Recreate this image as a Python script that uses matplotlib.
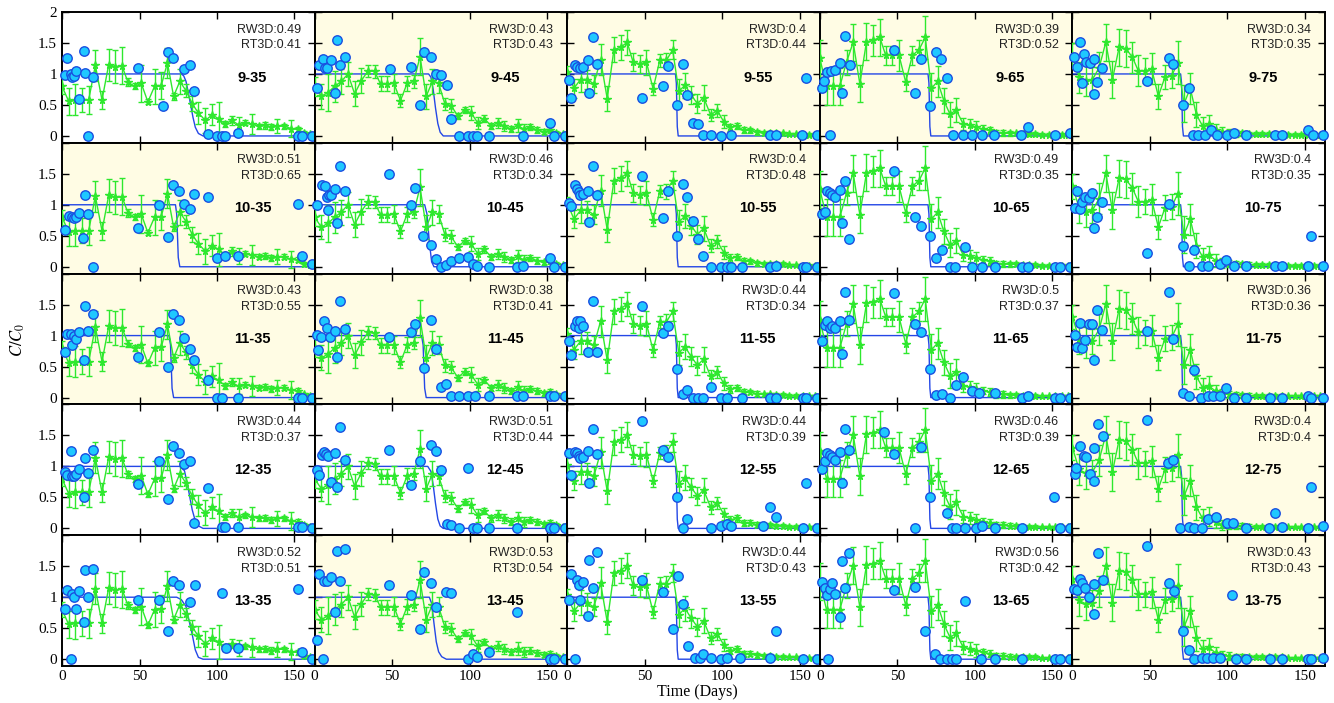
import matplotlib
matplotlib.use("Agg")
import matplotlib.pyplot as plt

# simulation output times (days)
t_sim = [0, 4.3, 8.6, 12.9, 17.2, 21.5, 25.8, 30.1, 34.4, 38.7, 42.5, 46.8, 51.1,
         55.4, 59.7, 64, 68, 72, 76, 80, 84, 88, 92.5, 96.8, 101, 105.3, 109.6,
         113.9, 118.2, 122.5, 126.8, 131, 135, 139, 143.4, 147.7, 152, 156, 160]

# RW3D mean C/C0 and spread, one series per column of wells
rw_35 = [0.8, 0.56, 0.58, 0.58, 0.58, 1.14, 0.58, 1.15, 1.12, 1.13, 0.87, 0.8, 0.85,
         0.55, 0.8, 0.81, 1.18, 0.64, 0.88, 0.73, 0.52, 0.37, 0.25, 0.34, 0.28, 0.19,
         0.25, 0.18, 0.21, 0.19, 0.16, 0.17, 0.14, 0.16, 0.16, 0.12, 0.11, 0.05, 0.03]
err_35 = [0.12, 0.22, 0.25, 0.2, 0.23, 0.25, 0.15, 0.26, 0.27, 0.3, 0.06, 0.05, 0.3,
          0.04, 0.28, 0.22, 0.24, 0.06, 0.2, 0.1, 0.12, 0.17, 0.2, 0.17, 0.27, 0.05,
          0.07, 0.13, 0.04, 0.16, 0.04, 0.05, 0.05, 0.12, 0.04, 0.14, 0.04, 0.03, 0.02]
rw_45 = [0.8, 0.64, 0.7, 0.8, 0.88, 1.0, 0.68, 0.89, 1.05, 1.04, 0.84, 0.84, 0.85,
         0.57, 0.85, 0.88, 1.28, 0.64, 0.88, 0.85, 0.52, 0.49, 0.32, 0.42, 0.37, 0.21,
         0.28, 0.16, 0.21, 0.16, 0.11, 0.17, 0.11, 0.14, 0.1, 0.07, 0.09, 0.05, 0.03]
err_45 = [0.15, 0.2, 0.3, 0.25, 0.2, 0.2, 0.2, 0.2, 0.1, 0.1, 0.12, 0.12, 0.15, 0.1,
          0.12, 0.1, 0.3, 0.2, 0.2, 0.15, 0.1, 0.1, 0.05, 0.05, 0.12, 0.1, 0.05, 0.05,
          0.08, 0.08, 0.05, 0.1, 0.08, 0.05, 0.05, 0.04, 0.05, 0.03, 0.02]
rw_55 = [1.03, 0.77, 0.91, 0.91, 0.84, 1.23, 0.6, 1.39, 1.43, 1.51, 1.19, 1.16, 1.19,
         0.76, 1.22, 1.22, 1.39, 0.72, 0.82, 0.66, 0.52, 0.62, 0.34, 0.41, 0.23, 0.14,
         0.16, 0.09, 0.09, 0.06, 0.05, 0.05, 0.04, 0.04, 0.03, 0.03, 0.02, 0.02, 0.02]
err_55 = [0.1, 0.15, 0.2, 0.15, 0.15, 0.25, 0.2, 0.2, 0.2, 0.2, 0.15, 0.15, 0.2, 0.1,
          0.1, 0.12, 0.15, 0.2, 0.2, 0.15, 0.15, 0.2, 0.1, 0.1, 0.1, 0.06, 0.05, 0.05,
          0.04, 0.04, 0.03, 0.03, 0.03, 0.03, 0.02, 0.02, 0.02, 0.02, 0.02]
rw_65 = [1.25, 0.8, 0.8, 0.8, 1.19, 1.51, 0.84, 1.52, 1.54, 1.59, 1.3, 1.3, 1.3, 0.87,
         1.3, 1.39, 1.59, 0.77, 0.88, 0.57, 0.35, 0.42, 0.19, 0.17, 0.14, 0.11, 0.09,
         0.05, 0.05, 0.04, 0.04, 0.03, 0.03, 0.03, 0.02, 0.02, 0.02, 0.02, 0.02]
err_65 = [0.3, 0.3, 0.3, 0.3, 0.2, 0.3, 0.3, 0.3, 0.25, 0.3, 0.15, 0.15, 0.25, 0.15,
          0.15, 0.15, 0.35, 0.25, 0.25, 0.2, 0.2, 0.2, 0.1, 0.1, 0.1, 0.06, 0.06, 0.05,
          0.05, 0.04, 0.03, 0.03, 0.03, 0.03, 0.02, 0.02, 0.02, 0.02, 0.02]
rw_75 = [1.3, 0.95, 0.89, 0.91, 1.1, 1.51, 0.91, 1.43, 1.41, 1.27, 1.05, 1.05, 1.08,
         0.64, 0.95, 0.97, 1.18, 0.52, 0.77, 0.34, 0.16, 0.19, 0.1, 0.06, 0.05, 0.04,
         0.04, 0.03, 0.03, 0.03, 0.03, 0.03, 0.03, 0.02, 0.02, 0.02, 0.02, 0.02, 0.02]
err_75 = [0.2, 0.25, 0.25, 0.2, 0.25, 0.3, 0.3, 0.3, 0.3, 0.25, 0.25, 0.2, 0.25, 0.2,
          0.2, 0.2, 0.35, 0.3, 0.25, 0.2, 0.15, 0.15, 0.1, 0.08, 0.06, 0.05, 0.04, 0.04,
          0.03, 0.03, 0.03, 0.03, 0.03, 0.02, 0.02, 0.02, 0.02, 0.02, 0.02]

# RT3D breakthrough curves
rt_t_9_35 = [0, 77, 78.5, 80, 81.5, 83, 84.5, 86, 88, 91, 163]
rt_c_9_35 = [1, 1, 0.97, 0.88, 0.7, 0.5, 0.3, 0.14, 0.04, 0, 0]
rt_t_10_35 = [0, 73.2, 74, 75, 76, 163]
rt_c_10_35 = [1, 1, 0.85, 0.15, 0, 0]
rt_t_12_35 = [0, 76, 79, 81, 82.5, 84, 86, 88, 91, 163]
rt_c_12_35 = [1, 1, 0.93, 0.7, 0.5, 0.3, 0.12, 0.04, 0, 0]
rt_t_13_35 = [0, 74, 77, 80, 82, 84, 86, 88, 91, 163]
rt_c_13_35 = [1, 1, 0.96, 0.85, 0.62, 0.4, 0.15, 0.03, 0, 0]
rt_t_9_45 = [0, 73.5, 75, 76.5, 78, 79.5, 81, 83, 163]
rt_c_9_45 = [1, 1, 0.95, 0.75, 0.45, 0.2, 0.06, 0, 0]
rt_t_10_45 = [0, 71, 72.5, 74, 75.5, 77, 163]
rt_c_10_45 = [1, 1, 0.85, 0.4, 0.08, 0, 0]
rt_t_12_45 = [0, 73, 75, 76.5, 78, 79.5, 81, 83, 163]
rt_c_12_45 = [1, 1, 0.92, 0.7, 0.4, 0.15, 0.04, 0, 0]
rt_t_13_45 = [0, 74, 75.5, 77, 78.5, 80, 82, 85, 163]
rt_c_13_45 = [1, 1, 0.9, 0.58, 0.28, 0.12, 0.04, 0, 0]
rt_t_early = [0, 69, 70, 71, 72, 163]
rt_c_early = [1, 1, 0.85, 0.15, 0, 0]
rt_t_sharp = [0, 69.8, 70.4, 71, 71.6, 163]
rt_c_sharp = [1, 1, 0.85, 0.15, 0, 0]

# observed C/C0 at each well
obs_t_9_35 = [1.9, 3, 5.8, 6.7, 7.7, 9, 11, 14.2, 14.8, 17, 20.2, 48.8, 65.4, 68.6, 71.8,
              78.9, 82.6, 85.4, 94, 99.8, 103, 105, 113.3, 152, 155, 161.5]
obs_c_9_35 = [0.98, 1.25, 1.0, 0.95, 0.97, 1.05, 0.6, 1.37, 1.02, 0.0, 0.95, 1.09, 0.49,
              1.35, 1.25, 1.08, 1.15, 0.73, 0.03, 0.0, 0.0, 0.0, 0.04, 0.0, 0.0, 0.0]
obs_t_9_45 = [1.3, 2.8, 5.6, 6.5, 8.2, 10.3, 13.1, 14.2, 16.3, 19.4, 48.6, 61.9, 68, 70.5,
              74.8, 78, 81.7, 85.2, 87.7, 93.1, 98.9, 102.4, 104.5, 112.5, 134.6, 151.8,
              154.4, 161.3]
obs_c_9_45 = [0.78, 1.15, 1.24, 1.1, 1.1, 1.22, 0.69, 1.55, 1.15, 1.27, 1.08, 1.11, 0.5,
              1.35, 1.28, 1.0, 0.98, 0.82, 0.28, 0.0, 0.0, 0.0, 0.0, 0.0, 0.0, 0.21, 0.0, 0.0]
obs_t_9_55 = [0.9, 2.2, 4.7, 6.3, 8.5, 10.4, 13.3, 14.2, 16.5, 19, 48.1, 61.7, 64.9, 70.6,
              75, 77.5, 81.3, 84.5, 87.7, 92.7, 99, 105.4, 130.7, 134.5, 151.3, 154.1, 161.4]
obs_c_9_55 = [0.91, 0.62, 1.15, 1.11, 1.09, 1.11, 1.23, 0.7, 1.59, 1.16, 0.62, 0.81, 1.13,
              0.5, 1.16, 0.66, 0.21, 0.19, 0.02, 0.02, 0.0, 0.02, 0.02, 0.02, 0.02, 0.93, 0.02]
obs_t_9_65 = [1.6, 2.5, 4.7, 6.3, 7, 9.5, 13.3, 14.2, 16.5, 19.6, 48.1, 61.7, 65, 71.2, 75,
              78.2, 82.3, 86.1, 92.4, 98.1, 104.4, 112.3, 129.7, 134.5, 151.9, 161.4]
obs_c_9_65 = [0.77, 0.89, 1.03, 0.02, 1.04, 1.07, 1.18, 0.7, 1.61, 1.15, 1.39, 0.7, 1.24,
              0.48, 1.36, 1.24, 0.93, 0.02, 0.02, 0.02, 0.02, 0.02, 0.02, 0.14, 0.02, 0.05]
obs_t_9_75 = [0.9, 3.2, 4.7, 6.3, 7.3, 8.9, 11.1, 13.6, 14.2, 15.8, 19, 48.4, 62.3, 64.9,
              71.2, 75, 77.5, 81.3, 85.4, 89.6, 93.4, 99.7, 104.4, 112.3, 130.7, 135, 151.9,
              155, 161.4]
obs_c_9_75 = [1.27, 1.12, 1.52, 0.85, 1.32, 1.2, 1.18, 1.24, 0.68, 0.87, 1.09, 0.88, 1.25,
              1.16, 0.5, 0.77, 0.02, 0.02, 0.02, 0.09, 0.02, 0.02, 0.05, 0.02, 0.02, 0.02,
              0.09, 0.02, 0.02]

obs_t_10_35 = [1.9, 4.5, 6.2, 7.7, 8.8, 11, 13.8, 14.8, 17, 20.2, 48.8, 62.6, 68.6, 71.8,
               75.5, 78.9, 82.6, 85.4, 94, 99.8, 105, 113.3, 152, 155, 161.5]
obs_c_10_35 = [0.6, 0.82, 0.8, 0.78, 0.8, 0.87, 0.46, 1.15, 0.85, 0.0, 0.62, 1.0, 0.48,
               1.32, 1.22, 1.02, 0.93, 1.18, 1.12, 0.14, 0.17, 0.17, 1.02, 0.18, 0.05]
obs_t_10_45 = [1.3, 4.9, 6.5, 7.7, 8.6, 9.2, 10.8, 12.9, 14.2, 16.3, 19.4, 48, 61.9, 64.5,
               70.1, 74.8, 78, 81.7, 84.5, 87.7, 93.1, 98.9, 102.4, 104.5, 112.5, 130.3,
               134.6, 151.8, 154.4, 161.3]
obs_c_10_45 = [1.0, 1.32, 1.31, 1.13, 0.91, 1.15, 1.15, 1.25, 0.7, 1.62, 1.22, 1.5, 1.0,
               1.27, 0.49, 0.35, 0.12, 0.0, 0.03, 0.1, 0.14, 0.16, 0.05, 0.02, 0.0, 0.0,
               0.02, 0.14, 0.0, 0.0]
obs_t_10_55 = [0.9, 2.2, 4.7, 6.3, 7.3, 8.5, 10.4, 13.3, 14.2, 16.5, 19, 48.1, 61.7, 64.9,
               70.6, 75, 77.5, 81.3, 84.5, 87.7, 92.7, 99, 102.8, 105.4, 113, 130.7, 134.5,
               152, 154.1, 161.4]
obs_c_10_55 = [1.03, 0.98, 1.32, 1.25, 1.2, 1.15, 1.18, 1.23, 0.72, 1.62, 1.16, 1.46, 0.78,
               1.22, 0.5, 1.34, 1.13, 0.74, 0.45, 0.18, 0.0, 0.0, 0.0, 0.0, 0.0, 0.0, 0.02,
               0.0, 0.0, 0.0]
obs_t_10_65 = [1.6, 3.2, 4.7, 6.3, 7.9, 9.5, 13.3, 14.2, 16.5, 19, 48.1, 61.7, 65, 71.2, 75,
               78.5, 83.9, 87, 93.4, 98.1, 104.4, 112.9, 130.4, 134.5, 151.9, 155, 161.4]
obs_c_10_65 = [0.85, 0.88, 1.23, 1.19, 1.16, 1.12, 1.24, 0.7, 1.39, 0.44, 1.55, 0.81, 0.66,
               0.49, 0.14, 0.27, 0.0, 0.0, 0.32, 0.0, 0.0, 0.0, 0.0, 0.0, 0.0, 0.0, 0.0]
obs_t_10_75 = [1.6, 3.2, 4.7, 6.3, 7.9, 10.4, 12.7, 14.2, 15.8, 19, 48.4, 62.3, 71.2, 75,
               78.2, 83.9, 87.7, 94.9, 99, 104.4, 112.3, 130.7, 135, 151.9, 154.1, 161.4]
obs_c_10_75 = [0.95, 1.22, 0.93, 1.05, 1.13, 1.11, 1.19, 0.62, 0.8, 1.05, 0.22, 1.02, 0.34,
               0.02, 0.27, 0.02, 0.02, 0.05, 0.11, 0.02, 0.02, 0.02, 0.02, 0.02, 0.49, 0.02]

obs_t_11_35 = [1.9, 3, 5.8, 6.7, 7.7, 9, 11, 14.2, 14.8, 17, 20.2, 48.8, 62.6, 68.6, 71.8,
               75.5, 78.9, 82.6, 85.4, 94, 99.8, 103, 113.3, 152, 155, 161.5]
obs_c_11_35 = [0.74, 1.03, 1.03, 0.85, 0.99, 0.94, 1.06, 0.61, 1.48, 1.08, 1.35, 0.65, 1.06,
               0.5, 1.35, 1.25, 0.96, 0.78, 0.61, 0.28, 0.0, 0.0, 0.0, 0.0, 0.0, 0.0]
obs_t_11_45 = [1.3, 2.2, 4.3, 6, 7.7, 9.9, 12.9, 14.2, 16.3, 19.4, 48, 61.9, 64.5, 70.5,
               74.8, 78, 81.7, 84.5, 87.7, 93.1, 98.9, 103.2, 112.5, 130.3, 134.6, 151.8,
               154.4, 161.3]
obs_c_11_45 = [1.01, 0.77, 0.98, 1.23, 1.13, 0.98, 1.08, 0.65, 1.56, 1.1, 0.98, 1.06, 1.19,
               0.47, 1.25, 0.78, 0.17, 0.22, 0.03, 0.02, 0.02, 0.02, 0.02, 0.02, 0.02, 0.03,
               0.02, 0.02]
obs_t_11_55 = [0.9, 2.2, 4.7, 6.3, 7.3, 8.5, 10.4, 13.3, 16.5, 19, 48.1, 61.7, 64.9, 70.6,
               75, 77.5, 81.3, 84.5, 87.7, 92.7, 99, 102.8, 113, 130.7, 134.5, 152, 154.1,
               161.4]
obs_c_11_55 = [0.92, 0.69, 1.16, 1.24, 1.13, 1.24, 1.16, 0.73, 1.55, 0.74, 1.47, 1.04, 1.15,
               0.46, 0.06, 0.12, 0.0, 0.0, 0.0, 0.17, 0.0, 0.0, 0.0, 0.0, 0.0, 0.0, 0.0, 0.0]
obs_t_11_65 = [1.6, 3.2, 4.7, 6.3, 7.9, 9.5, 13.3, 14.2, 16.5, 19, 48.1, 61.7, 65, 71.2, 75,
               78.5, 83.9, 88, 92.4, 98.1, 102.8, 112.9, 130.4, 134.5, 151.9, 155, 161.4]
obs_c_11_65 = [0.92, 1.17, 1.24, 1.13, 1.15, 1.13, 1.23, 0.71, 1.71, 1.25, 1.69, 1.19, 1.06,
               0.46, 0.04, 0.06, 0.0, 0.2, 0.33, 0.1, 0.07, 0.07, 0.0, 0.02, 0.0, 0.0, 0.0]
obs_t_11_75 = [1.6, 3.2, 4.7, 6.3, 7.9, 10.4, 12.7, 14.2, 15.8, 19, 48.4, 62.3, 64.9, 71.2,
               75, 78.2, 83.2, 87.7, 90.8, 94.9, 99, 104.4, 112.3, 127.5, 135, 151.9, 154.1,
               161.4]
obs_c_11_75 = [1.01, 0.82, 1.2, 0.8, 0.93, 1.19, 1.19, 0.61, 1.41, 1.09, 1.08, 1.71, 0.94,
               0.08, 0.03, 0.45, 0.0, 0.03, 0.03, 0.03, 0.15, 0.0, 0.0, 0.0, 0.0, 0.03, 0.0,
               0.0]

obs_t_12_35 = [1.9, 3, 5.8, 6.7, 7.7, 9, 11, 14.2, 14.8, 17, 20.2, 48.8, 62.6, 68.6, 71.8,
               75.5, 78.9, 82.6, 85.4, 94, 103, 105, 113.3, 152, 155, 161.5]
obs_c_12_35 = [0.91, 0.86, 1.25, 0.84, 0.84, 0.88, 0.95, 0.5, 1.13, 0.89, 1.27, 0.72, 1.08,
               0.48, 1.33, 1.22, 1.04, 1.09, 0.09, 0.65, 0.02, 0.02, 0.02, 0.02, 0.02, 0.0]
obs_t_12_45 = [1.3, 2.8, 4.9, 6, 7.1, 8.6, 10.3, 12.9, 14.2, 16.3, 19.4, 48, 61.9, 68, 74.8,
               78, 81.7, 85.2, 87.7, 93.1, 98.9, 102.4, 104.5, 112.5, 130.3, 151.8, 154.4,
               161.3]
obs_c_12_45 = [0.94, 0.86, 1.18, 1.24, 1.2, 1.17, 0.75, 1.22, 0.67, 1.63, 1.11, 1.27, 0.7,
               1.09, 1.34, 1.25, 0.94, 0.07, 0.05, 0.0, 0.97, 0.0, 0.0, 0.0, 0.0, 0.0, 0.0,
               0.0]
obs_t_12_55 = [0.9, 2.2, 4.7, 6.3, 7.3, 8.5, 10.4, 13.3, 14.2, 16.5, 19, 48.1, 61.7, 64.9,
               70.6, 75, 77.5, 92.7, 99, 102.8, 105.4, 126.6, 130.7, 134.5, 152, 154.1, 161.4]
obs_c_12_55 = [1.22, 0.86, 1.24, 1.21, 1.17, 1.13, 1.15, 1.25, 0.73, 1.61, 1.2, 1.74, 1.27,
               1.15, 0.5, 0.0, 0.15, 0.0, 0.04, 0.07, 0.04, 0.04, 0.34, 0.19, 0.0, 0.74, 0.0]
obs_t_12_65 = [1.6, 3.2, 4.7, 6.3, 7.9, 9.5, 13.3, 14.2, 16.5, 19, 41.1, 48.1, 61.7, 65,
               71.2, 82.3, 85.4, 88, 93.4, 100.6, 104.4, 112.9, 130.4, 151.3, 155, 161.4]
obs_c_12_65 = [0.95, 1.09, 1.21, 1.18, 1.15, 1.1, 1.24, 0.73, 1.6, 1.26, 1.56, 1.2, 0.0,
               1.32, 0.5, 0.25, 0.0, 0.0, 0.0, 0.0, 0.04, 0.0, 0.0, 0.5, 0.0, 0.0]
obs_t_12_75 = [1.6, 2.2, 4.7, 7.3, 8.5, 11.1, 13.6, 14.2, 16.8, 19.9, 48.4, 61.7, 64.9,
               69.6, 75, 78.2, 83.9, 87.7, 92.7, 99.7, 103.5, 112.3, 126.6, 130.7, 135,
               151.9, 154.1, 161.4]
obs_c_12_75 = [0.88, 0.97, 1.33, 1.17, 1.15, 0.88, 1.29, 0.77, 1.69, 1.49, 1.75, 1.05, 1.1,
               0.0, 0.02, 0.0, 0.0, 0.15, 0.19, 0.09, 0.09, 0.0, 0.0, 0.25, 0.03, 0.0, 0.66,
               0.04]

obs_t_13_35 = [1.9, 3, 5.8, 6.7, 7.7, 9, 11, 14.2, 14.8, 17, 20.2, 48.8, 62.6, 68.6, 71.8,
               75.5, 82.6, 85.8, 103.4, 105.6, 113.3, 152, 155, 161.5]
obs_c_13_35 = [0.81, 1.11, 0.0, 1.05, 1.01, 0.81, 1.1, 0.6, 1.44, 1.01, 1.46, 0.96, 0.96,
               0.46, 1.26, 1.19, 0.92, 1.19, 1.06, 0.18, 0.18, 1.13, 0.11, 0.0]
obs_t_13_45 = [1.3, 2.8, 5.6, 6, 7.7, 10.3, 12.9, 14.2, 16.3, 19.4, 48, 61.9, 68, 70.5,
               74.8, 78, 84.5, 87.7, 98.9, 102.4, 104.9, 112.5, 130.3, 151.8, 154.4, 161.3]
obs_c_13_45 = [0.31, 1.37, 0.0, 1.26, 1.26, 1.32, 0.76, 1.75, 1.26, 1.78, 1.19, 1.04, 0.49,
               1.4, 1.23, 0.84, 1.08, 1.06, 0.0, 0.08, 0.04, 0.11, 0.76, 0.0, 0.0, 0.0]
obs_t_13_55 = [0.9, 2.2, 4.7, 6.3, 7.3, 8.5, 10.4, 13.3, 14.2, 16.5, 19, 48.1, 61.7, 68,
               71.2, 75, 78.2, 82.3, 85.4, 87.7, 92.7, 99, 102.8, 111.7, 130.7, 134.5, 152,
               161.4]
obs_c_13_55 = [0.96, 1.37, 0.0, 1.28, 1.19, 0.95, 1.24, 0.7, 1.6, 1.15, 1.73, 1.27, 1.08,
               0.49, 1.35, 0.89, 0.22, 0.02, 0.02, 0.08, 0.02, 0.0, 0.02, 0.02, 0.02, 0.45,
               0.0, 0.0]
obs_t_13_65 = [1.6, 3.2, 4.7, 5.4, 6.3, 7.9, 9.5, 13.3, 14.2, 16.5, 19, 48.1, 61.7, 68,
               74.4, 77.5, 82.3, 85.4, 88, 93.4, 103.8, 112.9, 130.4, 151.9, 155, 161.4]
obs_c_13_65 = [1.24, 1.15, 1.04, 0.0, 1.13, 1.23, 1.05, 0.68, 1.59, 1.15, 1.71, 1.11, 1.16,
               0.45, 0.09, 0.0, 0.0, 0.0, 0.0, 0.94, 0.0, 0.0, 0.0, 0.0, 0.0, 0.0]
obs_t_13_75 = [0.9, 3.2, 4.7, 6.3, 7.9, 10.4, 13.6, 14.2, 16.8, 19.9, 48.4, 62.3, 65.5,
               71.2, 75, 78.2, 83.9, 87, 90.8, 94.9, 102.8, 105.4, 112.3, 127.5, 135, 151.9,
               154.1, 161.4]
obs_c_13_75 = [1.13, 1.11, 1.3, 1.23, 1.15, 1.01, 1.22, 0.73, 1.71, 1.28, 1.83, 1.23, 1.1,
               0.46, 0.15, 0.0, 0.02, 0.02, 0.02, 0.02, 1.03, 0.0, 0.0, 0.0, 0.0, 0.0, 0.0,
               0.02]

# fit scores per well (rows 9..13, columns 35..75)
rows = [9, 10, 11, 12, 13]
cols = [35, 45, 55, 65, 75]
rw3d_score = [[0.49, 0.43, 0.4, 0.39, 0.34],
              [0.51, 0.46, 0.4, 0.49, 0.4],
              [0.43, 0.38, 0.44, 0.5, 0.36],
              [0.44, 0.51, 0.44, 0.46, 0.4],
              [0.52, 0.53, 0.44, 0.56, 0.43]]
rt3d_score = [[0.41, 0.43, 0.44, 0.52, 0.35],
              [0.65, 0.34, 0.48, 0.35, 0.35],
              [0.55, 0.41, 0.34, 0.37, 0.36],
              [0.37, 0.44, 0.39, 0.39, 0.4],
              [0.51, 0.54, 0.43, 0.42, 0.43]]
shaded = [(9, 45), (9, 55), (9, 65), (9, 75), (10, 35), (10, 55), (11, 35), (11, 45),
          (11, 75), (12, 75), (13, 45), (13, 75)]

rw_by_col = {35: (rw_35, err_35), 45: (rw_45, err_45), 55: (rw_55, err_55),
             65: (rw_65, err_65), 75: (rw_75, err_75)}
obs = {
    (9, 35): (obs_t_9_35, obs_c_9_35), (9, 45): (obs_t_9_45, obs_c_9_45),
    (9, 55): (obs_t_9_55, obs_c_9_55), (9, 65): (obs_t_9_65, obs_c_9_65),
    (9, 75): (obs_t_9_75, obs_c_9_75),
    (10, 35): (obs_t_10_35, obs_c_10_35), (10, 45): (obs_t_10_45, obs_c_10_45),
    (10, 55): (obs_t_10_55, obs_c_10_55), (10, 65): (obs_t_10_65, obs_c_10_65),
    (10, 75): (obs_t_10_75, obs_c_10_75),
    (11, 35): (obs_t_11_35, obs_c_11_35), (11, 45): (obs_t_11_45, obs_c_11_45),
    (11, 55): (obs_t_11_55, obs_c_11_55), (11, 65): (obs_t_11_65, obs_c_11_65),
    (11, 75): (obs_t_11_75, obs_c_11_75),
    (12, 35): (obs_t_12_35, obs_c_12_35), (12, 45): (obs_t_12_45, obs_c_12_45),
    (12, 55): (obs_t_12_55, obs_c_12_55), (12, 65): (obs_t_12_65, obs_c_12_65),
    (12, 75): (obs_t_12_75, obs_c_12_75),
    (13, 35): (obs_t_13_35, obs_c_13_35), (13, 45): (obs_t_13_45, obs_c_13_45),
    (13, 55): (obs_t_13_55, obs_c_13_55), (13, 65): (obs_t_13_65, obs_c_13_65),
    (13, 75): (obs_t_13_75, obs_c_13_75),
}
rt3d = {
    (9, 35): (rt_t_9_35, rt_c_9_35), (10, 35): (rt_t_10_35, rt_c_10_35),
    (11, 35): (rt_t_early, rt_c_early), (12, 35): (rt_t_12_35, rt_c_12_35),
    (13, 35): (rt_t_13_35, rt_c_13_35),
    (9, 45): (rt_t_9_45, rt_c_9_45), (10, 45): (rt_t_10_45, rt_c_10_45),
    (11, 45): (rt_t_early, rt_c_early), (12, 45): (rt_t_12_45, rt_c_12_45),
    (13, 45): (rt_t_13_45, rt_c_13_45),
}

serif = "Liberation Serif"
sans = "Liberation Sans"
plt.rcParams["mathtext.fontset"] = "stix"

fig, axes = plt.subplots(5, 5, figsize=(13.34, 7.03), dpi=100)
fig.subplots_adjust(left=0.0465, right=0.9933, top=0.983, bottom=0.0526,
                    wspace=0, hspace=0)

for i, r in enumerate(rows):
    for j, c in enumerate(cols):
        ax = axes[i, j]
        key = (r, c)
        if key in shaded:
            ax.set_facecolor("#fffce4")
        lt, lc = rt3d.get(key, (rt_t_sharp, rt_c_sharp))
        ax.plot(lt, lc, color="#2447e6", lw=1.0, zorder=2)
        g, e = rw_by_col[c]
        ax.errorbar(t_sim, g, yerr=e, color="#2ee82e", lw=1.0, elinewidth=1.0,
                    marker="*", ms=5.5, capsize=2.5, capthick=1.0, zorder=3)
        ot, oc = obs[key]
        ax.plot(ot, oc, "o", ms=6.8, mfc="#1ec8ff", mec="#1a4fe0", mew=1.0,
                zorder=4, clip_on=False)

        ax.set_xlim(0, 163)
        ax.set_ylim(-0.11, 2.0)
        ax.set_xticks([0, 50, 100, 150])
        ax.set_yticks([0, 0.5, 1, 1.5, 2])
        ax.tick_params(direction="in", top=True, right=True, length=5, width=1.0,
                       labelsize=11)
        for sp in ax.spines.values():
            sp.set_linewidth(1.4)

        if j == 0:
            ylabels = ["0", "0.5", "1", "1.5", "2"] if i == 0 else ["0", "0.5", "1", "1.5", ""]
            ax.set_yticklabels(ylabels, fontfamily=serif)
        else:
            ax.set_yticklabels([])
        if i == 4:
            ax.set_xticklabels(["0", "50", "100", "150"], fontfamily=serif)
        else:
            ax.set_xticklabels([])
        ax.tick_params(axis="x", pad=3)

        ax.text(0.945, 0.865, "RW3D:%s" % rw3d_score[i][j], transform=ax.transAxes,
                ha="right", va="center", fontsize=9, fontfamily=sans, color="#222222")
        ax.text(0.945, 0.745, "RT3D:%s" % rt3d_score[i][j], transform=ax.transAxes,
                ha="right", va="center", fontsize=9, fontfamily=sans, color="#222222")
        ax.text(123, 0.94, "%d-%d" % (r, c), ha="center", va="center", fontsize=10.5,
                fontweight="bold", fontfamily=sans)

fig.text(0.5225, 0.016, "Time (Days)", ha="center", va="center", fontsize=11.5,
         fontfamily=serif)
fig.text(0.0135, 0.516, r"$C/C_0$", ha="center", va="center", rotation=90,
         fontsize=12)

fig.savefig("out.png", dpi=100)
